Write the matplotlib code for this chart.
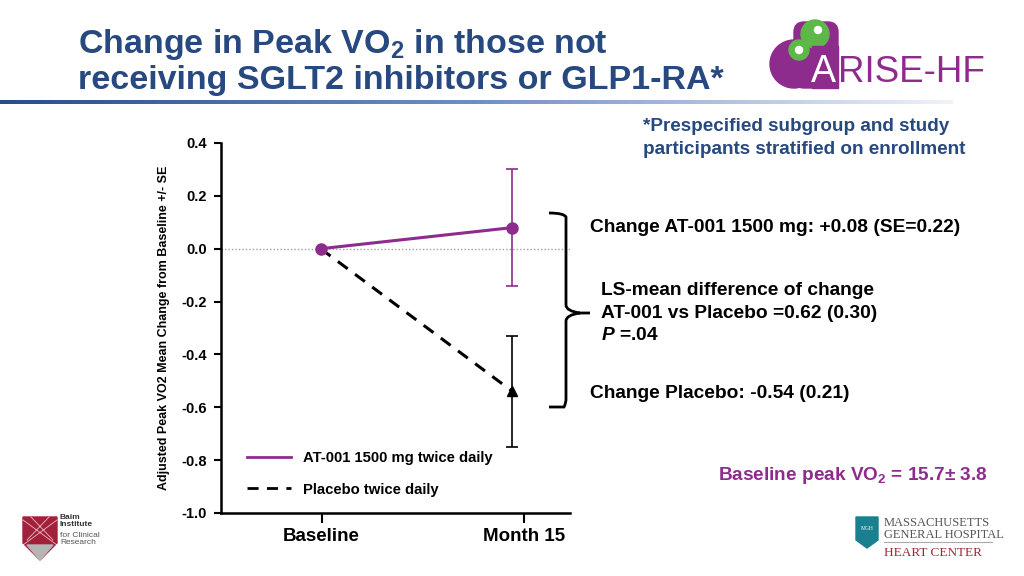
import numpy as np
import matplotlib
matplotlib.use("Agg")
import matplotlib.pyplot as plt
from matplotlib.path import Path
from matplotlib.patches import PathPatch, Circle, Polygon, FancyBboxPatch

# data
visits = ["Baseline", "Month 15"]
at001_mean = [0.0, 0.08]
at001_se = [0.0, 0.22]
placebo_mean = [0.0, -0.54]
placebo_se = [0.0, 0.21]
yticks = [0.4, 0.2, 0.0, -0.2, -0.4, -0.6, -0.8, -1.0]

purple = "#8E2C8E"
navy = "#27497F"
sans = ["Liberation Sans", "DejaVu Sans"]
serif = ["Liberation Serif", "DejaVu Serif"]

plt.rcParams["mathtext.fontset"] = "custom"
plt.rcParams["mathtext.rm"] = "Liberation Sans:bold"
plt.rcParams["mathtext.bf"] = "Liberation Sans:bold"
plt.rcParams["mathtext.it"] = "Liberation Sans:italic:bold"

fig = plt.figure(figsize=(10.24, 5.76), dpi=100)
fig.patch.set_facecolor("white")

# overlay in pixel coordinates for slide decorations
ov = fig.add_axes([0, 0, 1, 1], zorder=5)
ov.set_xlim(0, 1024)
ov.set_ylim(576, 0)
ov.axis("off")
ov.patch.set_alpha(0)

# title
ov.text(78, 45, "Change in Peak VO$\\mathbf{_2}$ in those not", fontsize=24.5,
        fontweight="bold", color=navy, family=sans, va="center")
ov.text(78, 80, "receiving SGLT2 inhibitors or GLP1-RA*", fontsize=24.5,
        fontweight="bold", color=navy, family=sans, va="center")

# gradient rule under title
bar = fig.add_axes([0.0, 1 - 104 / 576, 0.93, 0.007])
grad = np.linspace(0, 1, 256)[None, :]
bar.imshow(grad, aspect="auto", cmap=matplotlib.colors.LinearSegmentedColormap.from_list(
    "rule", ["#2B4C8C", "#6F8FC4", "#EEF2F9"]))
bar.axis("off")

ov.text(643, 138, "*Prespecified subgroup and study\nparticipants stratified on enrollment",
        fontsize=13.6, fontweight="bold", color=navy, family=sans, va="center", linespacing=1.45)

# main chart
ax = fig.add_axes([221 / 1024, 1 - 513 / 576, (570 - 221) / 1024, (513 - 143) / 576])
x = np.arange(len(visits))
ax.axhline(0, color="#A0A0A0", lw=1, ls=(0, (1, 1.5)), zorder=1)
ax.plot(x, placebo_mean, color="black", lw=2.2, ls=(0, (4, 3)), zorder=2)
ax.errorbar(x[1:], placebo_mean[1:], yerr=placebo_se[1:], fmt="^", color="black",
            ms=7, capsize=4, elinewidth=1.2, capthick=1.2, zorder=3)
ax.plot(x, at001_mean, color=purple, lw=2.2, marker="o", ms=8, zorder=4)
ax.errorbar(x[1:], at001_mean[1:], yerr=at001_se[1:], fmt="none", ecolor=purple,
            capsize=4, elinewidth=1.2, capthick=1.2, zorder=3)

ax.set_xlim(-0.52, 1.30)
ax.set_ylim(-1.0, 0.4)
ax.set_yticks(yticks)
ax.set_yticklabels([f"{v:.1f}" for v in yticks], fontsize=10.5, fontweight="bold", family=sans)
# the month 15 tick sits a little right of the plotted points in the original
ax.set_xticks([0.005, 1.0625])
ax.set_xticklabels(visits, fontsize=13.5, fontweight="bold", family=sans)
ax.tick_params(axis="y", length=5, width=1.5, pad=5)
ax.tick_params(axis="x", length=7, width=1.5, pad=4)
for s in ["top", "right"]:
    ax.spines[s].set_visible(False)
for s in ["left", "bottom"]:
    ax.spines[s].set_linewidth(1.8)
ax.set_ylabel("Adjusted Peak VO2 Mean Change from Baseline +/- SE", fontsize=9,
              fontweight="bold", family=sans, labelpad=8)

h1, = ax.plot([], [], color=purple, lw=2, label="AT-001 1500 mg twice daily")
h2, = ax.plot([], [], color="black", lw=2, ls=(0, (4, 3)), label="Placebo twice daily")
ax.legend(handles=[h1, h2], loc="lower left", bbox_to_anchor=(0.035, 0.008),
          frameon=False, handlelength=3.0, handletextpad=0.8, labelspacing=1.2,
          prop={"family": sans, "weight": "bold", "size": 10.7})

# curly brace
bx0, bx1, tip = 549, 566, 590
top, mid, bot = 213, 313, 407
verts = [(bx0, top), (bx1 - 2, top), (bx1, top + 4), (bx1, top + 8),
         (bx1, mid - 8), (bx1, mid - 2), (tip - 10, mid), (tip, mid),
         (tip - 10, mid), (bx1, mid + 2), (bx1, mid + 8),
         (bx1, bot - 8), (bx1, bot - 4), (bx1 - 2, bot), (bx0, bot)]
codes = [Path.MOVETO, Path.CURVE3, Path.CURVE3, Path.LINETO,
         Path.LINETO, Path.CURVE3, Path.CURVE3, Path.LINETO,
         Path.MOVETO, Path.CURVE3, Path.CURVE3,
         Path.LINETO, Path.CURVE3, Path.CURVE3, Path.LINETO]
ov.add_patch(PathPatch(Path(verts, codes), fill=False, lw=2, color="black"))

ov.text(590, 228, "Change AT-001 1500 mg: +0.08 (SE=0.22)", fontsize=13.8,
        fontweight="bold", family=sans, va="center")
ov.text(601, 313, "LS-mean difference of change\nAT-001 vs Placebo =0.62 (0.30)\n$\\it{P}$ =.04",
        fontsize=13.8, fontweight="bold", family=sans, va="center", linespacing=1.4)
ov.text(590, 393, "Change Placebo: -0.54 (0.21)", fontsize=13.8,
        fontweight="bold", family=sans, va="center")
ov.text(718, 476, "Baseline peak VO$_2$ = 15.7± 3.8", fontsize=13.7,
        fontweight="bold", family=sans, va="center", color=purple)

# ARISE-HF logo
ov.add_patch(Circle((794, 64), 24, color=purple))
ov.add_patch(FancyBboxPatch((794, 22), 44, 66, boxstyle="round,pad=0,rounding_size=10",
                            color=purple))
ov.add_patch(Circle((815, 34), 14, color="#5DB848"))
ov.add_patch(Circle((799, 50), 10, color="#5DB848"))
ov.add_patch(Circle((799, 50), 3.5, color="white"))
ov.add_patch(Circle((818, 30), 3.5, color="white"))
ov.add_patch(Polygon([(812, 46), (838, 46), (838, 88), (812, 88)], color=purple))
ov.text(823, 72, "A", fontsize=27, color="white", family=sans, va="center", ha="center")
ov.text(838, 72, "RISE-HF", fontsize=26.5, color=purple, family=sans, va="center")

# Baim logo
ov.add_patch(Polygon([(23, 517), (57, 517), (57, 543), (40, 560), (23, 543)],
                     closed=True, color="#A3203A"))
ov.add_patch(Polygon([(27, 545), (53, 545), (40, 560)], closed=True, color="#B5B5B5"))
for a, b in [((23, 520), (57, 545)), ((57, 520), (23, 545)), ((31, 517), (53, 540)),
             ((49, 517), (27, 540))]:
    ov.plot([a[0], b[0]], [a[1], b[1]], color="white", lw=0.6, alpha=0.7)
ov.text(60, 521, "Baim\nInstitute", fontsize=6, fontweight="bold", family=sans,
        va="center", color="#333333", linespacing=0.95)
ov.text(60, 539, "for Clinical\nResearch", fontsize=6, family=sans,
        va="center", color="#555555", linespacing=0.95)

# MGH logo
ov.add_patch(Polygon([(856, 517), (878, 517), (878, 540), (867, 548), (856, 540)],
                     closed=True, color="#1A7F8E"))
ov.text(867, 529, "MGH", fontsize=4, color="white", family=serif, ha="center", va="center")
ov.text(884, 529, "MASSACHUSETTS\nGENERAL HOSPITAL", fontsize=9,
        family=serif, va="center", color="#555555", linespacing=0.95)
ov.plot([884, 992], [542, 542], color="#AAAAAA", lw=0.8)
ov.text(884, 553, "HEART CENTER", fontsize=9.5, family=serif, va="center", color="#A0273A")

fig.savefig("out.png", dpi=100)
